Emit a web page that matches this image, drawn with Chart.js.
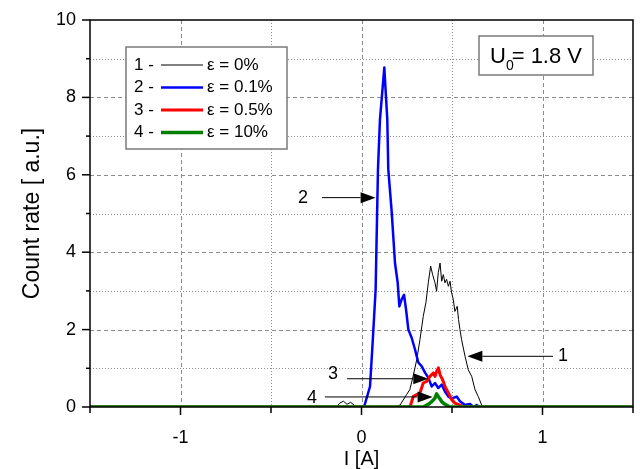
<!DOCTYPE html>
<html>
<head>
<meta charset="utf-8">
<script src="https://cdn.jsdelivr.net/npm/chart.js@4.4.1/dist/chart.umd.min.js"></script>
<style>
html,body{margin:0;padding:0;background:#fff;}
#c{display:block;}
</style>
</head>
<body>
<canvas id="c" width="640" height="469"></canvas>
<script>
// ---- data ----
const x1 = [-1.5,-0.14,-0.12,-0.10,-0.08,-0.06,-0.04,-0.03,0.185,0.213,0.249,0.267,0.285,0.305,0.323,0.341,0.356,0.369,0.382,0.393,0.406,0.415,0.424,0.434,0.443,0.452,0.461,0.470,0.480,0.489,0.498,0.507,0.516,0.529,0.536,0.544,0.553,0.572,0.590,0.609,0.627,0.645,0.664,0.67,1.5];
const y1 = [0,0,0.1,0.15,0.07,0.12,0.05,0,0,0.05,0.32,0.45,0.79,1.22,1.74,2.34,2.70,3.21,3.64,3.42,3.21,2.99,3.47,3.72,3.25,3.42,3.21,3.30,3.12,3.25,2.95,2.78,2.47,2.60,2.26,2.0,1.74,1.31,0.96,0.79,0.45,0.27,0.05,0,0];

const x2 = [-1.5,0.014,0.047,0.062,0.078,0.091,0.102,0.126,0.1425,0.148,0.167,0.185,0.2,0.209,0.222,0.235,0.246,0.259,0.277,0.296,0.305,0.314,0.333,0.351,0.369,0.388,0.406,0.424,0.443,0.461,0.480,0.498,0.526,0.544,0.572,0.599,0.618,0.636,0.655,1.5];
const y2 = [0,0,0.53,1.7,3.03,6.14,7.43,8.77,7.43,6.14,5.03,3.72,3.21,2.60,2.78,2.90,2.52,2.0,1.79,1.48,1.31,1.15,1.05,0.89,0.76,0.53,0.62,0.49,0.58,0.40,0.27,0.22,0.27,0.15,0.05,0.08,0,0.05,0,0];

const x3 = [-1.5,0.268,0.286,0.305,0.323,0.341,0.360,0.378,0.397,0.406,0.415,0.425,0.434,0.443,0.452,0.461,0.480,0.498,0.516,0.544,0.56,1.5];
const y3 = [0,0,0.27,0.32,0.36,0.62,0.66,0.79,0.88,0.79,0.92,1.01,0.83,0.75,0.66,0.53,0.36,0.19,0.1,0.05,0,0];

const x4 = [-1.5,0.342,0.369,0.388,0.406,0.415,0.430,0.443,0.461,0.489,1.5];
const y4 = [0,0,0.07,0.14,0.23,0.34,0.23,0.14,0.07,0,0];

const seriesLabels = ['1 -', '2 -', '3 -', '4 -'];
const legendTexts = ['\u03b5 = 0%', '\u03b5 = 0.1%', '\u03b5 = 0.5%', '\u03b5 = 10%'];

const xMajorTicks = [-1, 0, 1];
const xMinorTicks = [-1.5, -0.5, 0.5, 1.5];
const yMajorTicks = [0, 2, 4, 6, 8, 10];
const yMinorTicks = [1, 3, 5, 7, 9];

// annotations: label, label position (data), arrow tail, arrow tip (data)
const annotLabels = ['2', '1', '3', '4'];
const annotLabelX = [-0.323, 1.113, -0.158, -0.273];
const annotLabelY = [5.41, 1.31, 0.84, 0.24];
const annotTailX = [-0.218, 1.058, -0.08, -0.202];
const annotTipX = [0.078, 0.585, 0.369, 0.393];
const annotY = [5.41, 1.31, 0.73, 0.26];

const FONT = '"Liberation Sans", Arial, sans-serif';

function pts(xs, ys){ return xs.map((x,i)=>({x:x, y:ys[i]})); }

const colors = ['#000000', '#0000ff', '#ff0000', '#008000'];
const widths = [1, 2.5, 3, 3.5];

const gridPlugin = {
  id: 'gridPlugin',
  beforeDatasetsDraw(chart){
    const {ctx, chartArea:a, scales:{x, y}} = chart;
    ctx.save();
    ctx.strokeStyle = '#8c8c8c';
    ctx.lineWidth = 1;
    const vg = (vals, dash) => {
      ctx.setLineDash(dash);
      vals.forEach(v => {
        const px = Math.round(x.getPixelForValue(v)) + 0.5;
        if (px <= a.left + 1 || px >= a.right - 1) return;
        ctx.beginPath(); ctx.moveTo(px, a.top); ctx.lineTo(px, a.bottom); ctx.stroke();
      });
    };
    const hg = (vals, dash) => {
      ctx.setLineDash(dash);
      vals.forEach(v => {
        const py = Math.round(y.getPixelForValue(v)) + 0.5;
        if (py <= a.top + 1 || py >= a.bottom - 1) return;
        ctx.beginPath(); ctx.moveTo(a.left, py); ctx.lineTo(a.right, py); ctx.stroke();
      });
    };
    vg(xMajorTicks, [4, 3]);
    vg(xMinorTicks, [1, 2]);
    hg(yMajorTicks, [4, 3]);
    hg(yMinorTicks, [1, 2]);
    ctx.restore();
  },
  afterDatasetsDraw(chart){
    const {ctx, chartArea:a, scales:{x, y}} = chart;
    ctx.save();
    ctx.setLineDash([]);
    ctx.strokeStyle = '#000';
    ctx.lineWidth = 1.5;
    ctx.strokeRect(a.left, a.top, a.right - a.left, a.bottom - a.top);
    ctx.lineWidth = 1.5;
    xMajorTicks.forEach(v => { const px = x.getPixelForValue(v); ctx.beginPath(); ctx.moveTo(px, a.bottom); ctx.lineTo(px, a.bottom + 8); ctx.stroke(); });
    xMinorTicks.forEach(v => { const px = x.getPixelForValue(v); ctx.beginPath(); ctx.moveTo(px, a.bottom); ctx.lineTo(px, a.bottom + 6); ctx.stroke(); });
    yMajorTicks.forEach(v => { const py = y.getPixelForValue(v); ctx.beginPath(); ctx.moveTo(a.left, py); ctx.lineTo(a.left - 8, py); ctx.stroke(); });
    yMinorTicks.forEach(v => { const py = y.getPixelForValue(v); ctx.beginPath(); ctx.moveTo(a.left, py); ctx.lineTo(a.left - 4, py); ctx.stroke(); });

    // annotations
    ctx.fillStyle = '#000';
    ctx.strokeStyle = '#000';
    ctx.lineWidth = 1;
    ctx.font = '18px ' + FONT;
    ctx.textAlign = 'center';
    ctx.textBaseline = 'middle';
    annotLabels.forEach((lab, i) => {
      const lx = x.getPixelForValue(annotLabelX[i]);
      const ly = y.getPixelForValue(annotLabelY[i]);
      ctx.fillText(lab, lx, ly);
      const tx = x.getPixelForValue(annotTailX[i]);
      const hx = x.getPixelForValue(annotTipX[i]);
      const py = y.getPixelForValue(annotY[i]);
      const dir = hx > tx ? 1 : -1;
      const L = 15, H = 5.5;
      ctx.beginPath(); ctx.moveTo(tx, py); ctx.lineTo(hx - dir * L, py); ctx.stroke();
      ctx.beginPath(); ctx.moveTo(hx, py); ctx.lineTo(hx - dir * L, py - H); ctx.lineTo(hx - dir * L, py + H); ctx.closePath(); ctx.fill();
    });

    // legend box
    const lx0 = 126, ly0 = 47, lw = 161, lh = 102;
    ctx.fillStyle = '#fff';
    ctx.fillRect(lx0, ly0, lw, lh);
    ctx.strokeStyle = '#7a7a7a';
    ctx.lineWidth = 1.5;
    ctx.strokeRect(lx0, ly0, lw, lh);
    ctx.font = '17px ' + FONT;
    ctx.textAlign = 'left';
    ctx.textBaseline = 'middle';
    const rows = [65, 87.5, 110, 132.5];
    rows.forEach((ry, i) => {
      ctx.fillStyle = '#000';
      ctx.fillText(seriesLabels[i], 134, ry);
      ctx.strokeStyle = colors[i];
      ctx.lineWidth = widths[i];
      ctx.beginPath(); ctx.moveTo(161, ry); ctx.lineTo(203, ry); ctx.stroke();
      ctx.fillStyle = '#000';
      ctx.fillText(legendTexts[i], 207, ry);
    });

    // U0 box
    const bx = 479, by = 36, bw = 114, bh = 39;
    ctx.fillStyle = '#fff';
    ctx.fillRect(bx, by, bw, bh);
    ctx.strokeStyle = '#7a7a7a';
    ctx.lineWidth = 1.5;
    ctx.strokeRect(bx, by, bw, bh);
    ctx.fillStyle = '#000';
    ctx.textBaseline = 'alphabetic';
    ctx.font = '22px ' + FONT;
    ctx.fillText('U', 490, 63);
    const uw = ctx.measureText('U').width;
    ctx.font = '14px ' + FONT;
    ctx.fillText('0', 490 + uw, 70);
    const zw = ctx.measureText('0').width;
    ctx.font = '22px ' + FONT;
    ctx.fillText('= 1.8 V', 490 + uw + zw - 2, 63);
    ctx.restore();
  }
};

const datasets = [
  {data: pts(x1, y1), borderColor: colors[0], borderWidth: widths[0], order: 3},
  {data: pts(x2, y2), borderColor: colors[1], borderWidth: widths[1], order: 2},
  {data: pts(x3, y3), borderColor: colors[2], borderWidth: widths[2], order: 1},
  {data: pts(x4, y4), borderColor: colors[3], borderWidth: widths[3], order: 0}
].map(d => Object.assign(d, {pointRadius: 0, tension: 0, fill: false, borderJoinStyle: 'round'}));

new Chart(document.getElementById('c'), {
  type: 'line',
  data: {datasets},
  options: {
    responsive: false,
    animation: false,
    devicePixelRatio: 1,
    layout: {padding: {left: 0, right: 7, top: 20, bottom: 0}},
    plugins: {legend: {display: false}, tooltip: {enabled: false}},
    scales: {
      x: {
        type: 'linear', min: -1.5, max: 1.5,
        afterFit(s){ s.height = 62; s.paddingLeft = 0; s.paddingRight = 0; },
        grid: {display: false, drawTicks: false},
        border: {display: false},
        ticks: {stepSize: 0.5, padding: 20, color: '#000', font: {family: FONT, size: 18},
          maxRotation: 0, autoSkip: false,
          callback: v => Number.isInteger(v) ? String(v) : ''},
        title: {display: true, text: 'I [A]', color: '#000', font: {family: FONT, size: 20, lineHeight: 1}, padding: {top: 0, bottom: 0}}
      },
      y: {
        type: 'linear', min: 0, max: 10,
        afterFit(s){ s.width = 90; s.paddingTop = 0; s.paddingBottom = 0; },
        grid: {display: false, drawTicks: false},
        border: {display: false},
        ticks: {stepSize: 2, padding: 14, color: '#000', font: {family: FONT, size: 18}},
        title: {display: true, text: 'Count rate [ a.u.]', color: '#000', font: {family: FONT, size: 23, lineHeight: 1.2}, padding: {top: 19, bottom: 0}}
      }
    }
  },
  plugins: [gridPlugin]
});
</script>
</body>
</html>
